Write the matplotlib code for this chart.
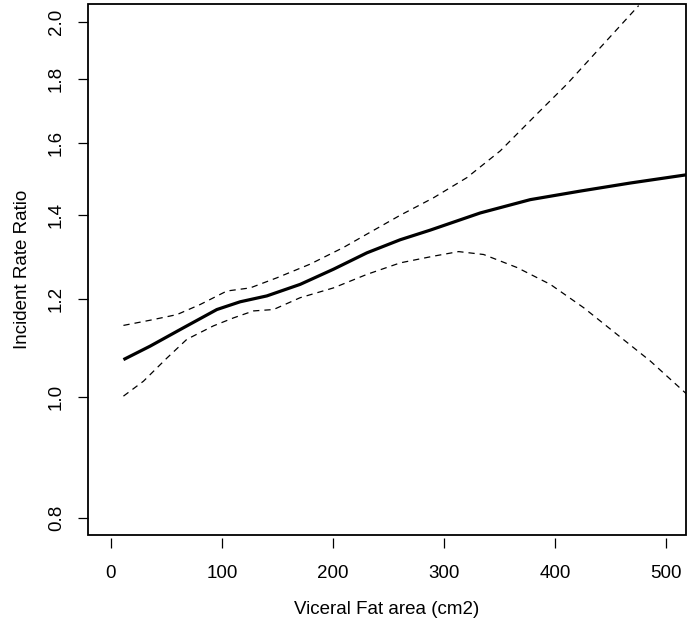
import numpy as np
import matplotlib
matplotlib.use('Agg')
import matplotlib.pyplot as plt
from matplotlib.patches import Rectangle

plt.rcParams['font.family'] = ['Liberation Sans', 'DejaVu Sans']

# Fitted incident rate ratio
fit_x = [11.4, 35.4, 65.4, 95.5, 116.5, 140.5, 170.5, 200.5, 230.6, 260.6,
         287.6, 332.7, 377.7, 422.8, 467.8, 518.9]
fit_y = [1.072, 1.099, 1.137, 1.176, 1.193, 1.206, 1.232, 1.267, 1.306, 1.338,
         1.362, 1.406, 1.441, 1.464, 1.486, 1.509]

# Upper confidence band
upper_x = [11.4, 35.4, 59.5, 80.5, 104.5, 125.5, 149.5, 179.5, 209.5, 230.6,
           260.6, 290.6, 320.7, 350.7, 380.7, 410.7, 440.8, 475.3]
upper_y = [1.142, 1.153, 1.165, 1.187, 1.217, 1.224, 1.247, 1.279, 1.319, 1.352,
           1.400, 1.446, 1.501, 1.577, 1.678, 1.784, 1.909, 2.063]

# Lower confidence band
lower_x = [11.4, 29.4, 50.5, 68.5, 92.4, 110.5, 128.5, 146.5, 170.5, 200.5,
           230.6, 260.6, 290.6, 313.2, 335.7, 365.8, 395.8, 425.8, 455.9, 485.9, 519]
lower_y = [1.002, 1.030, 1.075, 1.113, 1.141, 1.158, 1.173, 1.176, 1.202, 1.224,
           1.255, 1.282, 1.298, 1.309, 1.302, 1.271, 1.232, 1.180, 1.123, 1.069, 1.005]

x_ticks = [0, 100, 200, 300, 400, 500]
y_ticks = [0.8, 1.0, 1.2, 1.4, 1.6, 1.8, 2.0]
y_tick_labels = ['0.8', '1.0', '1.2', '1.4', '1.6', '1.8', '2.0']

fig = plt.figure(figsize=(6.93, 6.28), dpi=100)
ax = fig.add_axes([0.127, 0.148, 0.863, 0.846])

ax.plot(fit_x, fit_y, color='black', lw=2.3, solid_capstyle='butt',
        solid_joinstyle='round')
ax.plot(upper_x, upper_y, color='black', lw=0.9, dashes=(5, 4))
ax.plot(lower_x, lower_y, color='black', lw=0.9, dashes=(5, 4))

ax.set_yscale('log')
ax.set_xlim(-20.5, 518)
ax.set_ylim(0.775, 2.07)
ax.set_xticks(x_ticks)
ax.set_xticklabels([str(v) for v in x_ticks])
ax.set_yticks(y_ticks)
ax.set_yticklabels(y_tick_labels, rotation=90, va='center')
ax.yaxis.set_minor_locator(matplotlib.ticker.NullLocator())

# R style box with detached ticks
for s in ax.spines.values():
    s.set_visible(False)
ax.spines['bottom'].set_position(('outward', 2))
ax.add_patch(Rectangle((0, 0), 1, 1, transform=ax.transAxes, fill=False,
                       edgecolor='black', lw=1.3, clip_on=False))
ax.tick_params(axis='both', direction='out', length=7.5, width=0.9,
               labelsize=13.5, colors='black')
ax.tick_params(axis='x', pad=12)
ax.tick_params(axis='y', pad=9)

ax.set_xlabel('Viceral Fat area (cm2)', fontsize=13.5, labelpad=14)
ax.set_ylabel('Incident Rate Ratio', fontsize=13.5, labelpad=12)

fig.savefig('out.png', dpi=100)
